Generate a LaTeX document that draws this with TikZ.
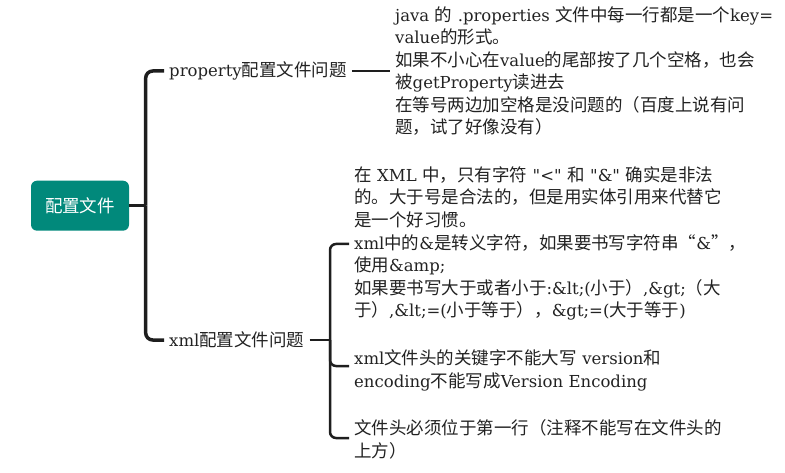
\documentclass[tikz,border=0pt]{standalone}
\usepackage{fontspec}
\usepackage{tikz}
\setmainfont{DejaVu Serif}
\newfontfamily\cjkfont{Noto Sans CJK SC}[Scale=1.06]
\definecolor{rootteal}{HTML}{01897B}
\definecolor{linegray}{HTML}{1E1E1E}
\definecolor{inkgray}{HTML}{222222}

% Han characters and CJK punctuation go to the CJK font
\newXeTeXintercharclass\cjkclass
\newcount\cjkcode
\newcommand\setclass[3]{\cjkcode=#1\relax
  \loop\XeTeXcharclass\cjkcode=#3\relax
  \ifnum\cjkcode<#2\relax\advance\cjkcode by 1 \repeat}
\setclass{"0020}{"2FFF}{0}
\setclass{"4E00}{"9FFF}{\cjkclass}
\setclass{"3000}{"303F}{\cjkclass}
\setclass{"FF00}{"FFEF}{\cjkclass}
\XeTeXcharclass"201C=\cjkclass
\XeTeXcharclass"201D=\cjkclass
\XeTeXinterchartoks 0 \cjkclass={\begingroup\cjkfont}
\XeTeXinterchartoks 4095 \cjkclass={\begingroup\cjkfont}
\XeTeXinterchartoks \cjkclass 0={\endgroup}
\XeTeXinterchartoks \cjkclass 4095={\endgroup}
\XeTeXinterchartokenstate=1
% straight double quote, kept out of the TeX ligature mapping
\newcommand\dq{\XeTeXglyph\XeTeXcharglyph"22\relax}

\begin{document}
\begin{tikzpicture}[x=1pt,y=-1pt,font=\fontsize{16.5}{22.5}\selectfont,
	rootbox/.style={fill=rootteal,rounded corners=6pt,minimum width=98pt,minimum height=50pt,text=white,inner sep=0pt},
	topic/.style={inner xsep=5pt,inner ysep=0pt,text=inkgray},
	note/.style={topic,text width=400pt,align=left},
	trunk/.style={draw=linegray,line width=3.5pt,rounded corners=7pt},
	twig/.style={draw=linegray,line width=2.5pt,rounded corners=6pt}]
	  \useasboundingbox (0,0) rectangle (785,473);
	  \node[rootbox] (root) at (80,205.7) {配置文件};
	  \coordinate (hub) at (145.7,205.7);

	  \node[topic,anchor=west] (prop) at (164,71) {property配置文件问题};
	  \node[topic,anchor=west] (xmlq) at (164,340) {xml配置文件问题};

	  \node[note,anchor=base west] (propnote) at (390,21.5) {java 的 .properties 文件中每一行都是一个key=\\value的形式。\\如果不小心在value的尾部按了几个空格，也会\\被getProperty读进去\\在等号两边加空格是没问题的（百度上说有问\\题，试了好像没有）};
	  \node[note,anchor=base west] (xmlnote) at (349,181.5) {在 XML 中，只有字符 \dq<\dq{} 和 \dq\&\dq{} 确实是非法\\的。大于号是合法的，但是用实体引用来代替它\\是一个好习惯。};
	  \node[note,anchor=base west] (amp) at (349,249.5) {xml中的\&是转义字符，如果要书写字符串“\&”，\\使用\&amp;\\如果要书写大于或者小于:\&lt;(小于）,\&gt;（大\\于）,\&lt;=(小于等于），\&gt;=(大于等于)};
	  \node[note,anchor=base west] (verkey) at (349,364.5) {xml文件头的关键字不能大写 version和\\encoding不能写成Version Encoding};
	  \node[note,anchor=base west] (headline) at (349,434.5) {文件头必须位于第一行（注释不能写在文件头的\\上方）};

	  % main bracket
	  \draw[trunk] (root.east) -- (hub);
	  \draw[trunk] (hub) |- (prop.west);
	  \draw[trunk] (hub) |- (xmlq.west);
	  \draw[twig] (prop.east) -- (prop.east -| propnote.west);

	  % xml bracket
	  \coordinate (subhub) at (330,340);
	  \draw[twig] (xmlq.east) -- (subhub);
	  \draw[twig] (subhub) |- ([yshift=5.5pt]amp.base west);
	  \draw[twig] (subhub) |- ([yshift=-1.5pt]verkey.base west);
	  \draw[twig] (subhub) |- ([yshift=-3.5pt]headline.base west);
\end{tikzpicture}
\end{document}
